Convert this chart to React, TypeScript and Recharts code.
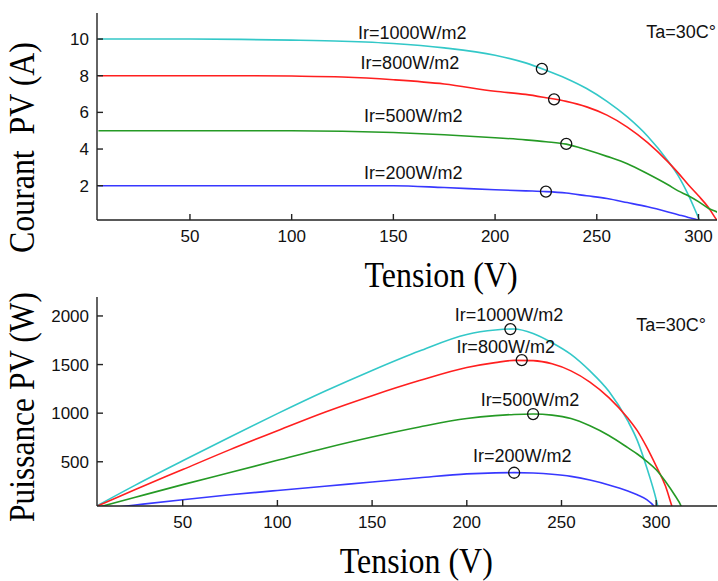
import React from 'react';
import { LineChart, Line, XAxis, YAxis, ReferenceDot } from 'recharts';

// ---------- I-V curves : Courant PV (A) vs Tension (V) ----------
const ivVolt1000 = [5, 25, 50, 75, 100, 125, 150, 175, 200, 215, 225, 235, 245, 255, 265, 275, 285, 290, 295, 300, 301];
const ivCurr1000 = [10.0, 10.0, 10.0, 9.98, 9.94, 9.88, 9.76, 9.52, 9.12, 8.7, 8.3, 7.85, 7.3, 6.6, 5.75, 4.7, 3.35, 2.55, 1.5, 0.25, 0];

const ivVolt800 = [5, 25, 50, 75, 100, 125, 150, 175, 200, 215, 225, 235, 245, 255, 265, 275, 285, 290, 295, 300, 305, 309, 310];
const ivCurr800 = [8.0, 8.0, 8.0, 8.0, 7.98, 7.93, 7.78, 7.55, 7.15, 6.98, 6.8, 6.6, 6.3, 5.85, 5.2, 4.35, 3.3, 2.7, 2.05, 1.45, 0.8, 0.13, 0];

const ivVolt500 = [5, 25, 50, 75, 100, 125, 150, 175, 200, 215, 225, 235, 245, 255, 265, 275, 285, 290, 295, 300, 305, 310, 313, 315];
const ivCurr500 = [5.0, 5.0, 5.0, 5.0, 5.0, 4.97, 4.9, 4.78, 4.62, 4.5, 4.4, 4.27, 3.96, 3.6, 3.2, 2.65, 2.05, 1.72, 1.45, 1.13, 0.76, 0.5, 0.15, 0];

const ivVolt200 = [5, 25, 50, 75, 100, 125, 150, 175, 200, 215, 225, 235, 245, 255, 265, 275, 285, 290, 295, 300, 301];
const ivCurr200 = [2.0, 2.0, 2.0, 2.0, 2.0, 2.0, 2.0, 1.9, 1.78, 1.72, 1.68, 1.6, 1.45, 1.3, 1.08, 0.85, 0.57, 0.42, 0.27, 0.1, 0];

// ---------- P-V curves : Puissance PV (W) vs Tension (V) ----------
const pvVolt1000 = [5, 25, 50, 75, 100, 125, 150, 175, 200, 215, 225, 235, 245, 255, 265, 275, 285, 290, 295, 300, 301];
const pvPow1000 = [50, 260, 510, 755, 995, 1225, 1440, 1640, 1810, 1855, 1866, 1820, 1725, 1605, 1435, 1225, 920, 720, 440, 110, 30];

const pvVolt800 = [5, 25, 50, 75, 100, 125, 150, 175, 200, 215, 225, 235, 245, 255, 265, 275, 285, 290, 295, 300, 305, 308, 309];
const pvPow800 = [45, 215, 420, 625, 820, 1010, 1180, 1335, 1470, 1520, 1543, 1540, 1508, 1435, 1320, 1160, 950, 820, 650, 455, 245, 60, 0];

const pvVolt500 = [5, 25, 50, 75, 100, 125, 150, 175, 200, 215, 225, 235, 245, 255, 265, 275, 285, 290, 295, 300, 305, 310, 313, 314];
const pvPow500 = [30, 135, 265, 390, 515, 640, 755, 858, 945, 975, 987, 991, 980, 945, 870, 770, 645, 580, 505, 418, 295, 150, 50, 0];

const pvVolt200 = [5, 25, 50, 75, 100, 125, 150, 175, 200, 215, 225, 235, 245, 255, 265, 275, 285, 290, 295, 299, 300];
const pvPow200 = [10, 55, 110, 160, 205, 248, 292, 335, 375, 386, 388, 384, 372, 350, 312, 262, 200, 160, 110, 40, 15];

// ---------- maximum power points ----------
const mppVolt = [223, 229, 235, 225];
const mppCurr = [8.37, 6.71, 4.28, 1.68];
const mppPow = [1865, 1546, 991, 387];

// ---------- labels / ticks ----------
const irrLabels = ['Ir=1000W/m2', 'Ir=800W/m2', 'Ir=500W/m2', 'Ir=200W/m2'];
const tempLabel = 'Ta=30C°';
const voltTicks = [50, 100, 150, 200, 250, 300];
const currTicks = [2, 4, 6, 8, 10];
const powTicks = [500, 1000, 1500, 2000];
const colors = ['#33c8c8', '#ff1f1f', '#259a25', '#3838ff'];

const zip = (xs: number[], ys: number[]) => xs.map((v, i) => ({ v, y: ys[i] }));

const ivSeries = [
  zip(ivVolt1000, ivCurr1000),
  zip(ivVolt800, ivCurr800),
  zip(ivVolt500, ivCurr500),
  zip(ivVolt200, ivCurr200),
];
const pvSeries = [
  zip(pvVolt1000, pvPow1000),
  zip(pvVolt800, pvPow800),
  zip(pvVolt500, pvPow500),
  zip(pvVolt200, pvPow200),
];

const SANS = '"Liberation Sans", Arial, Helvetica, sans-serif';
const SERIF = '"Liberation Serif", "Times New Roman", Times, serif';
const tickStyle = { fontSize: 17, fill: '#111', fontFamily: SANS };
const axisStroke = { stroke: '#222', strokeWidth: 1.4 };

const annot = (text: string) => (props: any) => {
  const vb = props.viewBox || {};
  return (
    <text x={vb.x} y={vb.y} fontSize={18} fontFamily={SANS} fill="#111">
      {text}
    </text>
  );
};

const xTitle = (frac: number) => (props: any) => {
  const vb = props.viewBox || {};
  return (
    <text
      x={vb.x + vb.width * frac}
      y={vb.y + 67}
      textAnchor="middle"
      fontSize={36}
      fontFamily={SERIF}
      fill="#000"
      textLength={153}
      lengthAdjust="spacingAndGlyphs"
    >
      Tension (V)
    </text>
  );
};

const yTitle = (text: string, cx: number, cy: number, len: number) => () => (
  <text
    x={cx}
    y={cy}
    transform={`rotate(-90 ${cx} ${cy})`}
    textAnchor="middle"
    fontSize={35}
    fontFamily={SERIF}
    fill="#000"
    textLength={len}
    lengthAdjust="spacingAndGlyphs"
    style={{ whiteSpace: 'pre' }}
  >
    {text}
  </text>
);

const ivAnnot = [
  { v: 132.6, y: 9.99 },
  { v: 133.9, y: 8.35 },
  { v: 135.5, y: 5.49 },
  { v: 135.5, y: 2.37 },
];
const pvAnnot = [
  { v: 193.6, y: 1951 },
  { v: 194.5, y: 1615 },
  { v: 207.3, y: 1073 },
  { v: 203.3, y: 500 },
];

export default function App() {
  return (
    <div
      style={{
        position: 'absolute',
        left: 0,
        top: 0,
        width: 718,
        height: 581,
        overflow: 'hidden',
        background: '#fff',
      }}
    >
      <div style={{ position: 'absolute', left: 0, top: 0 }}>
        <LineChart width={718} height={300} margin={{ top: 13, right: 1, bottom: 50, left: 0 }}>
          <XAxis
            dataKey="v"
            type="number"
            domain={[4.3, 309.1]}
            allowDataOverflow
            ticks={voltTicks}
            height={30}
            tickSize={-6}
            tickMargin={16}
            tick={tickStyle}
            axisLine={axisStroke}
            tickLine={axisStroke}
            label={{ content: xTitle(0.555) }}
          />
          <XAxis
            xAxisId="top"
            orientation="top"
            dataKey="v"
            type="number"
            domain={[4.3, 309.1]}
            allowDataOverflow
            ticks={voltTicks}
            height={0}
            tickSize={-6}
            tick={false}
            axisLine={axisStroke}
            tickLine={axisStroke}
          />
          <YAxis
            type="number"
            domain={[0.13, 11.42]}
            allowDataOverflow
            ticks={currTicks}
            width={97}
            tickSize={-6}
            tickMargin={14}
            tick={tickStyle}
            axisLine={axisStroke}
            tickLine={axisStroke}
            label={{ content: yTitle('Courant  PV (A)', 34, 147.5, 211) }}
          />
          <YAxis
            yAxisId="right"
            orientation="right"
            type="number"
            domain={[0.13, 11.42]}
            allowDataOverflow
            ticks={currTicks}
            width={0}
            tickSize={-6}
            tick={false}
            axisLine={axisStroke}
            tickLine={axisStroke}
          />
          {ivSeries.map((d, i) => (
            <Line
              key={'iv' + i}
              data={d}
              dataKey="y"
              type="monotone"
              stroke={colors[i]}
              strokeWidth={1.6}
              dot={false}
              isAnimationActive={false}
            />
          ))}
          {mppVolt.map((v, i) => (
            <ReferenceDot
              key={'ivm' + i}
              x={v}
              y={mppCurr[i]}
              r={5.5}
              fill="none"
              stroke="#111"
              strokeWidth={1.3}
            />
          ))}
          {ivAnnot.map((a, i) => (
            <ReferenceDot key={'iva' + i} x={a.v} y={a.y} r={0} stroke="none" fill="none" label={{ content: annot(irrLabels[i]) }} />
          ))}
          <ReferenceDot x={274.3} y={10.08} r={0} stroke="none" fill="none" label={{ content: annot(tempLabel) }} />
        </LineChart>
      </div>

      <div style={{ position: 'absolute', left: 0, top: 230 }}>
        <LineChart width={718} height={351} margin={{ top: 67, right: 1, bottom: 45, left: 0 }}>
          <XAxis
            dataKey="v"
            type="number"
            domain={[4.75, 332.1]}
            allowDataOverflow
            ticks={voltTicks}
            height={30}
            tickSize={-6}
            tickMargin={16}
            tick={tickStyle}
            axisLine={axisStroke}
            tickLine={axisStroke}
            label={{ content: xTitle(0.515) }}
          />
          <XAxis
            xAxisId="top"
            orientation="top"
            dataKey="v"
            type="number"
            domain={[4.75, 332.1]}
            allowDataOverflow
            ticks={voltTicks}
            height={0}
            tickSize={-6}
            tick={false}
            axisLine={axisStroke}
            tickLine={axisStroke}
          />
          <YAxis
            type="number"
            domain={[45, 2195]}
            allowDataOverflow
            ticks={powTicks}
            width={97}
            tickSize={-6}
            tickMargin={14}
            tick={tickStyle}
            axisLine={axisStroke}
            tickLine={axisStroke}
            label={{ content: yTitle('Puissance PV (W)', 34, 177, 230) }}
          />
          <YAxis
            yAxisId="right"
            orientation="right"
            type="number"
            domain={[45, 2195]}
            allowDataOverflow
            ticks={powTicks}
            width={0}
            tickSize={-6}
            tick={false}
            axisLine={axisStroke}
            tickLine={axisStroke}
          />
          {pvSeries.map((d, i) => (
            <Line
              key={'pv' + i}
              data={d}
              dataKey="y"
              type="monotone"
              stroke={colors[i]}
              strokeWidth={1.6}
              dot={false}
              isAnimationActive={false}
            />
          ))}
          {mppVolt.map((v, i) => (
            <ReferenceDot
              key={'pvm' + i}
              x={v}
              y={mppPow[i]}
              r={5.5}
              fill="none"
              stroke="#111"
              strokeWidth={1.3}
            />
          ))}
          {pvAnnot.map((a, i) => (
            <ReferenceDot key={'pva' + i} x={a.v} y={a.y} r={0} stroke="none" fill="none" label={{ content: annot(irrLabels[i]) }} />
          ))}
          <ReferenceDot x={289.5} y={1848} r={0} stroke="none" fill="none" label={{ content: annot(tempLabel) }} />
        </LineChart>
      </div>
    </div>
  );
}
